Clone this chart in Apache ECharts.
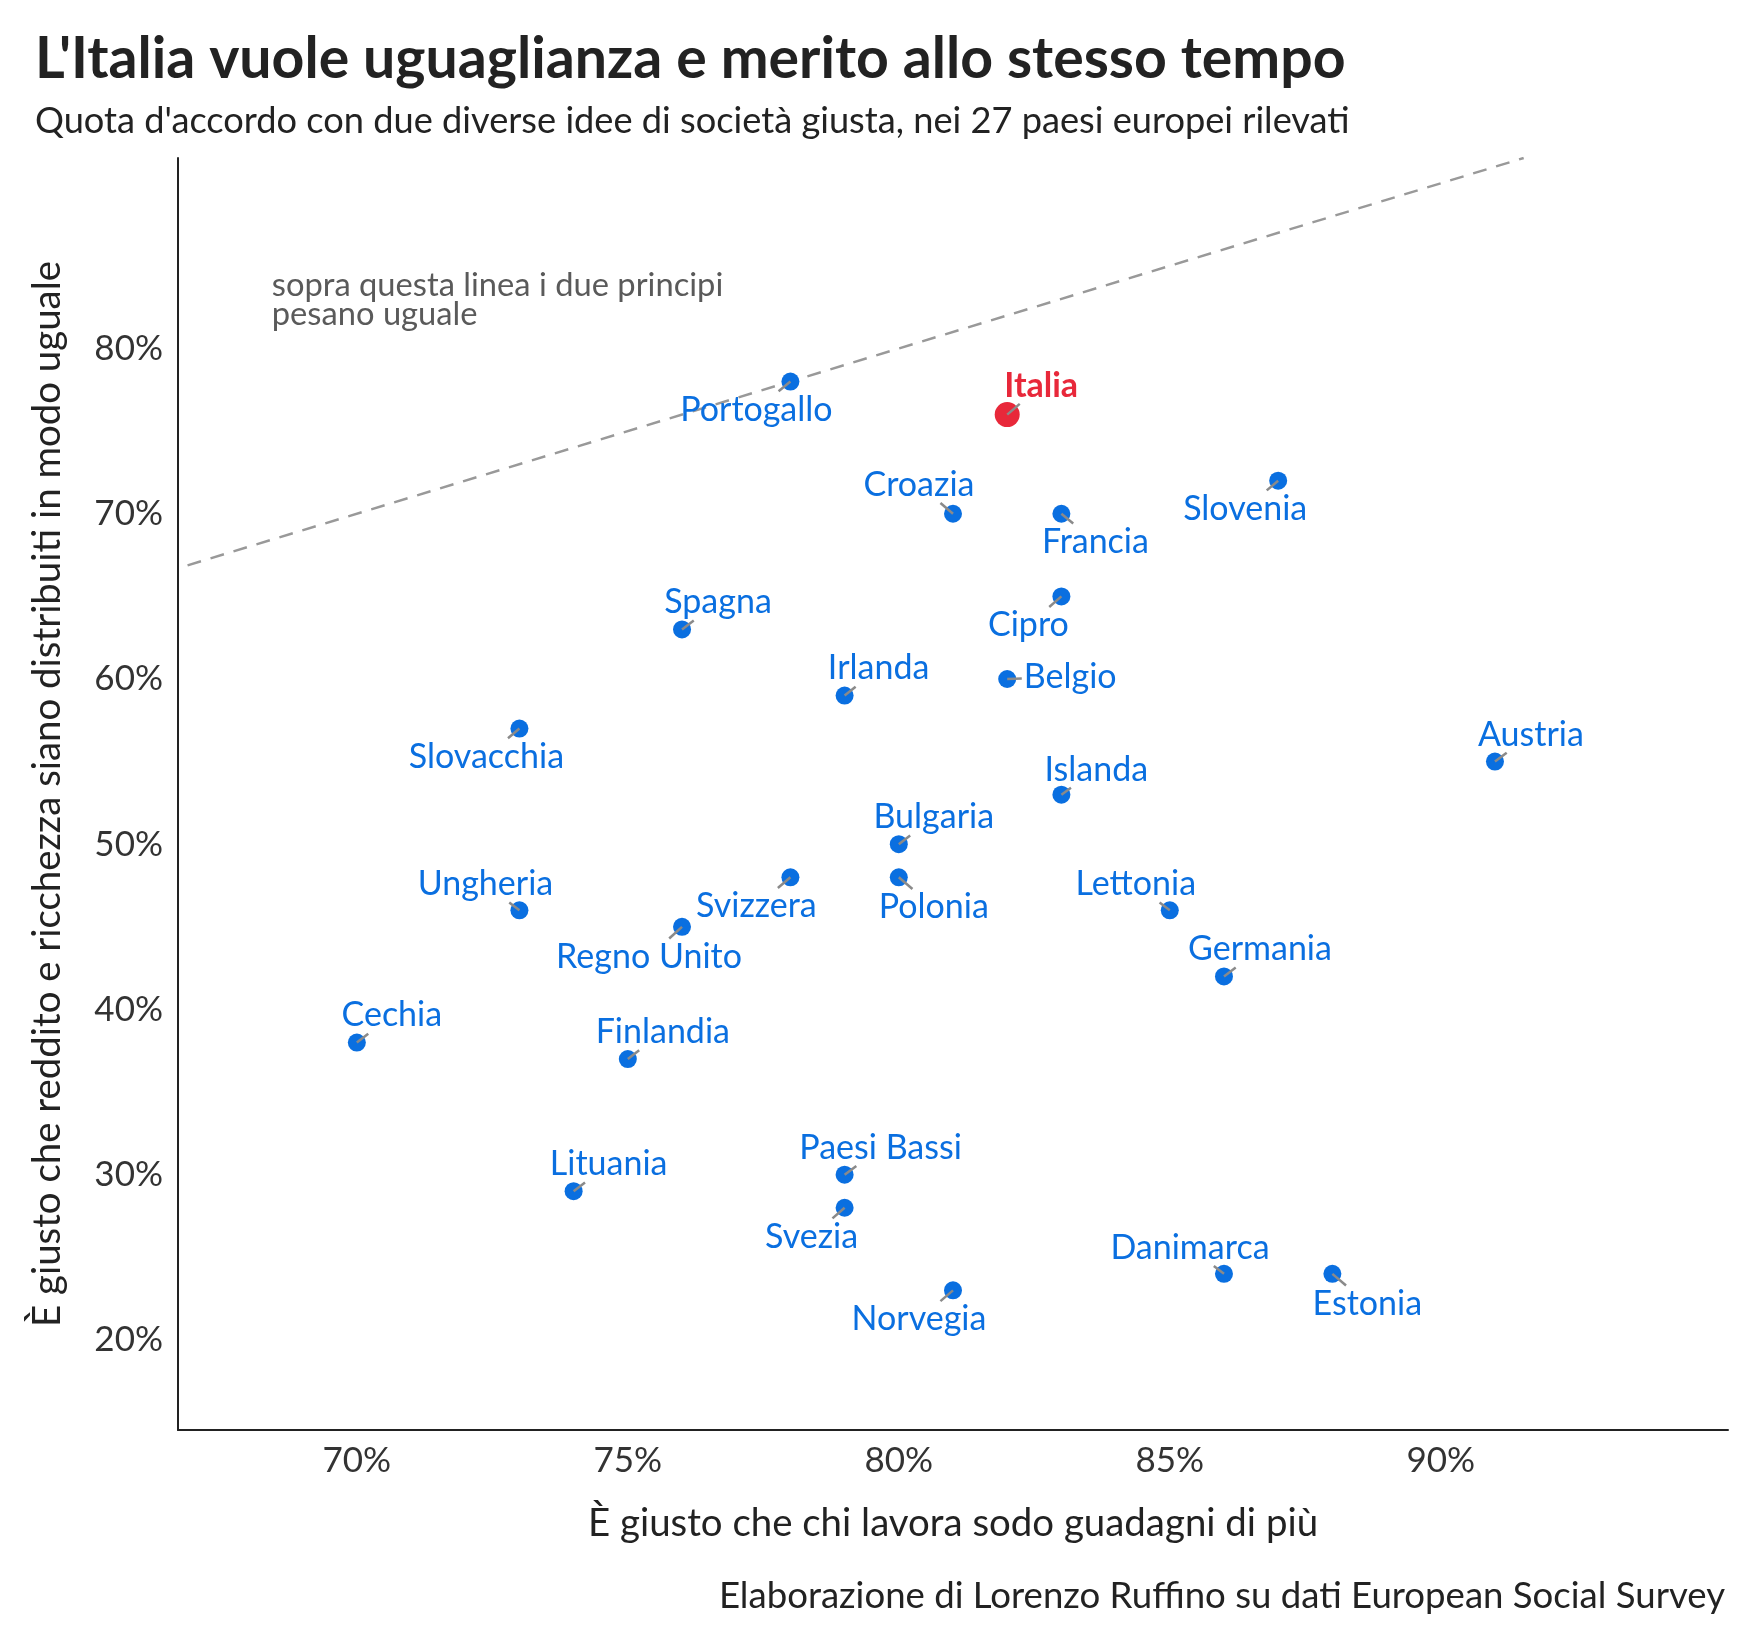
<!DOCTYPE html>
<html>
<head>
<meta charset="utf-8">
<script src="https://cdn.jsdelivr.net/npm/echarts@6/dist/echarts.min.js"></script>
<style>
  html, body { margin: 0; padding: 0; background: #fff; }
  #chart { width: 1760px; height: 1650px; }
</style>
</head>
<body>
<div id="chart"></div>
<script>
// dati: quota d'accordo (%) per paese
var countries = ['Portogallo', 'Italia', 'Croazia', 'Francia', 'Slovenia', 'Spagna', 'Cipro',
  'Irlanda', 'Belgio', 'Slovacchia', 'Austria', 'Islanda', 'Bulgaria', 'Ungheria', 'Svizzera',
  'Polonia', 'Lettonia', 'Regno Unito', 'Germania', 'Cechia', 'Finlandia', 'Lituania',
  'Paesi Bassi', 'Svezia', 'Danimarca', 'Estonia', 'Norvegia'];
// "È giusto che chi lavora sodo guadagni di più"
var meritValues = [78, 82, 81, 83, 87, 76, 83, 79, 82, 73, 91, 83, 80, 73, 78,
  80, 85, 76, 86, 70, 75, 74, 79, 79, 86, 88, 81];
// "È giusto che reddito e ricchezza siano distribuiti in modo uguale"
var equalityValues = [78, 76, 70, 70, 72, 63, 65, 59, 60, 57, 55, 53, 50, 46, 48,
  48, 46, 45, 42, 38, 37, 29, 30, 28, 24, 24, 23];
var highlight = 'Italia';

var xTicks = [70, 75, 80, 85, 90];
var yTicks = [20, 30, 40, 50, 60, 70, 80];
var xLimits = [66.7, 95.3];
var yLimits = [14.55, 91.53];

// posizione delle etichette rispetto al punto (pixel)
var labelOffsets = {
  'Portogallo': [-34, 28], 'Italia': [34, -29], 'Croazia': [-34, -29], 'Francia': [34, 28],
  'Slovenia': [-33, 28], 'Spagna': [36, -27], 'Cipro': [-33, 29], 'Irlanda': [34, -27],
  'Belgio': [63, -2], 'Slovacchia': [-33, 28], 'Austria': [36, -27], 'Islanda': [35, -25],
  'Bulgaria': [35, -27], 'Ungheria': [-34, -26], 'Svizzera': [-34, 29], 'Polonia': [35, 30],
  'Lettonia': [-34, -26], 'Regno Unito': [-33, 30], 'Germania': [36, -27], 'Cechia': [35, -27],
  'Finlandia': [35, -27], 'Lituania': [35, -27], 'Paesi Bassi': [36, -27], 'Svezia': [-33, 29],
  'Danimarca': [-34, -26], 'Estonia': [35, 30], 'Norvegia': [-34, 29]
};

var FONT = 'Lato';
var LABEL_SIZE = 34;
var BLUE = '#0a6fe0';
var RED = '#e8283a';

var myChart = echarts.init(document.getElementById('chart'));

// larghezza del testo, serve per far finire il segmento al bordo dell'etichetta
var measureCtx = document.createElement('canvas').getContext('2d');
function textWidth(text, bold) {
  measureCtx.font = (bold ? 'bold ' : '') + LABEL_SIZE + 'px ' + FONT;
  return measureCtx.measureText(text).width;
}

var points = countries.map(function (name, i) {
  var isHi = name === highlight;
  return {
    name: name,
    value: [meritValues[i], equalityValues[i]],
    symbolSize: isHi ? 25 : 18,
    itemStyle: { color: isHi ? RED : BLUE, opacity: 1 },
    label: { color: isHi ? RED : BLUE, fontWeight: isHi ? 'bold' : 'normal' }
  };
});

function renderSegment(params, api) {
  var name = countries[params.dataIndex];
  var o = labelOffsets[name];
  var c = api.coord([api.value(0), api.value(1)]);
  var halfW = textWidth(name, name === highlight) / 2;
  var halfH = LABEL_SIZE / 2;
  var tx = Math.abs(o[0]) > 0.01 ? (Math.abs(o[0]) - halfW) / Math.abs(o[0]) : -Infinity;
  var ty = Math.abs(o[1]) > 0.01 ? (Math.abs(o[1]) - halfH) / Math.abs(o[1]) : -Infinity;
  var len = Math.sqrt(o[0] * o[0] + o[1] * o[1]);
  var t = Math.max(tx, ty) - 2 / len;
  return {
    type: 'line',
    shape: { x1: c[0], y1: c[1], x2: c[0] + o[0] * t, y2: c[1] + o[1] * t },
    style: { stroke: '#8a8a8a', lineWidth: 2.5 }
  };
}

var option = {
  backgroundColor: '#fff',
  animation: false,
  title: [
    {
      text: "L'Italia vuole uguaglianza e merito allo stesso tempo",
      left: 35, top: 31, padding: 0,
      textStyle: { fontFamily: FONT, fontSize: 57.2, fontWeight: 'bold', color: '#222' }
    },
    {
      text: "Quota d'accordo con due diverse idee di società giusta, nei 27 paesi europei rilevati",
      left: 35, top: 103, padding: 0,
      textStyle: { fontFamily: FONT, fontSize: 36.2, fontWeight: 'normal', color: '#222' }
    },
    {
      text: 'Elaborazione di Lorenzo Ruffino su dati European Social Survey',
      right: 35, top: 1578, padding: 0,
      textStyle: { fontFamily: FONT, fontSize: 36.6, fontWeight: 'normal', color: '#222' }
    }
  ],
  grid: { left: 178, right: 32, top: 158, bottom: 220, containLabel: false },
  xAxis: {
    type: 'value',
    min: xLimits[0], max: xLimits[1],
    name: 'È giusto che chi lavora sodo guadagni di più',
    nameLocation: 'middle', nameGap: 75,
    nameTextStyle: { fontFamily: FONT, fontSize: 38.4, color: '#222' },
    axisLine: { show: true, onZero: false, lineStyle: { color: '#222', width: 2 } },
    axisTick: { show: false },
    splitLine: { show: false },
    axisLabel: {
      customValues: xTicks, margin: 13,
      fontFamily: FONT, fontSize: 35, color: '#333',
      formatter: function (v) { return v + '%'; }
    }
  },
  yAxis: {
    type: 'value',
    min: yLimits[0], max: yLimits[1],
    name: 'È giusto che reddito e ricchezza siano distribuiti in modo uguale',
    nameLocation: 'middle', nameGap: 111, nameRotate: 90,
    nameTextStyle: { fontFamily: FONT, fontSize: 38.4, color: '#222' },
    axisLine: { show: true, onZero: false, lineStyle: { color: '#222', width: 2 } },
    axisTick: { show: false },
    splitLine: { show: false },
    axisLabel: {
      customValues: yTicks, margin: 15,
      fontFamily: FONT, fontSize: 35, color: '#333',
      formatter: function (v) { return v + '%'; }
    }
  },
  series: [
    {
      // linea y = x: sopra i due principi pesano uguale
      type: 'line',
      silent: true,
      symbol: 'none',
      z: 1,
      data: [[xLimits[0], xLimits[0]], [yLimits[1], yLimits[1]]],
      lineStyle: { color: '#999', width: 2.5, type: [14, 10], dashOffset: 14 }
    },
    {
      type: 'scatter',
      z: 3,
      data: points,
      label: {
        show: true,
        position: 'inside',
        align: 'center',
        verticalAlign: 'middle',
        fontFamily: FONT,
        fontSize: LABEL_SIZE,
        formatter: '{b}'
      },
      labelLayout: function (params) {
        var o = labelOffsets[countries[params.dataIndex]];
        return { dx: o[0], dy: o[1] };
      }
    },
    {
      // segmenti punto-etichetta
      type: 'custom',
      z: 4,
      silent: true,
      data: countries.map(function (name, i) { return [meritValues[i], equalityValues[i]]; }),
      renderItem: renderSegment
    }
  ]
};
myChart.setOption(option);

// nota sulla linea, in coordinate dei dati
var noteAt = [68.43, 84.72];
var p = myChart.convertToPixel({ gridIndex: 0 }, noteAt);
myChart.setOption({
  graphic: [{
    type: 'text',
    x: p[0], y: p[1],
    silent: true,
    style: {
      text: 'sopra questa linea i due principi\npesano uguale',
      fontFamily: FONT, fontSize: 32.7, lineHeight: 29,
      fill: '#5a5a5a', textAlign: 'left', textVerticalAlign: 'top'
    }
  }]
});

window.addEventListener('resize', function () {
  myChart.resize();
});
</script>
</body>
</html>
